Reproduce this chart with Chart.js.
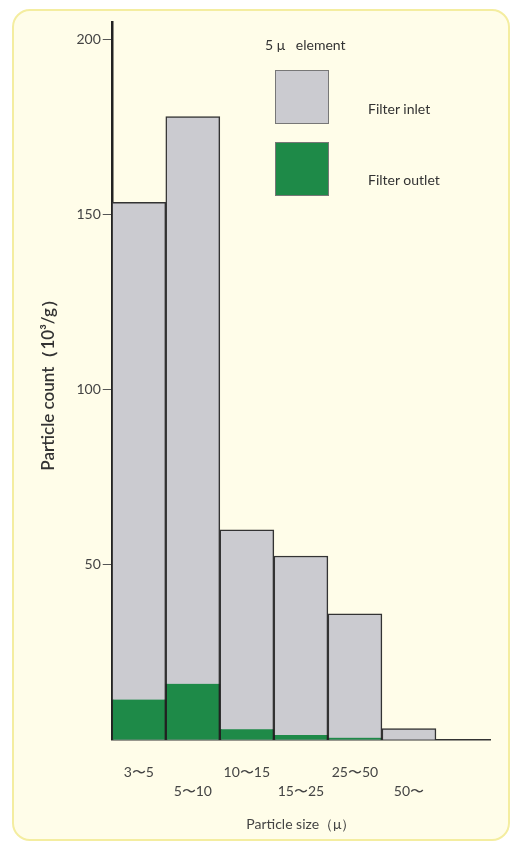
<!DOCTYPE html>
<html>
<head>
<meta charset="utf-8">
<script src="https://cdn.jsdelivr.net/npm/chart.js@4.4.0/dist/chart.umd.min.js"></script>
<style>
  body { margin: 0; background: #fff; font-family: Lato, "Open Sans", sans-serif; }
  .frame { position: absolute; left: 12px; top: 9px; width: 494px; height: 828px;
           background: #fffde9; border: 2px solid #f4eda0; border-radius: 18px; }
  .wrap { position: absolute; left: 0; top: 0; width: 514px; height: 845px; }
  .leg { position: absolute; color: #333; font-size: 14px; }
  .box { position: absolute; width: 52px; height: 52px; border: 1px solid #777; }
</style>
</head>
<body>
<div class="frame"></div>
<div class="wrap"><canvas id="chart"></canvas></div>
<div class="leg" style="left:265px; top:36px;">5 μ&nbsp;&nbsp; element</div>
<div class="box" style="left:275px; top:70px; background:#cbcbd0;"></div>
<div class="leg" style="left:368px; top:100px;">Filter inlet</div>
<div class="box" style="left:275px; top:142px; background:#1e8a48;"></div>
<div class="leg" style="left:368px; top:171px;">Filter outlet</div>
<script>
// Tamaños de partícula (etiquetas escalonadas en dos filas)
const sizes = [['3〜5', ''], ['', '5〜10'], ['10〜15', ''], ['', '15〜25'], ['25〜50', ''], ['', '50〜'], ['', '']];
const inletCounts = [153.5, 178, 60, 52.5, 36, 3.2, null];
const outletCounts = [11.5, 16, 3, 1.4, 0.6, 0, null];
const yTicks = [50, 100, 150, 200];

const ctx = document.getElementById('chart').getContext('2d');
new Chart(ctx, {
    type: 'bar',
    data: {
        labels: sizes,
        datasets: [{
            label: 'Filter outlet',
            data: outletCounts,
            backgroundColor: '#1e8a48',
            borderColor: '#222',
            borderWidth: { left: 1.5, right: 1.5, top: 0, bottom: 0 },
            categoryPercentage: 1,
            barPercentage: 1,
            grouped: false,
            order: 0
        }, {
            label: 'Filter inlet',
            data: inletCounts,
            backgroundColor: '#cbcbd0',
            borderColor: '#333',
            borderWidth: 1.5,
            categoryPercentage: 1,
            barPercentage: 1,
            grouped: false,
            order: 1
        }]
    },
    options: {
        responsive: true,
        maintainAspectRatio: false,
        animation: false,
        layout: { padding: { left: 34, right: 24, top: 22, bottom: 12 } },
        plugins: { legend: { display: false }, tooltip: { enabled: false } },
        scales: {
            x: {
                grid: { display: false },
                border: { color: '#333', width: 1.5 },
                ticks: { color: '#444', font: { size: 14, family: 'Lato', lineHeight: 1.3 }, maxRotation: 0, autoSkip: false, padding: 16 },
                title: { display: true, text: 'Particle size（μ）', color: '#444', font: { size: 14, family: 'Lato' }, padding: { top: 0, bottom: 0 } }
            },
            y: {
                min: 0,
                max: 205,
                afterBuildTicks: (axis) => { axis.ticks = yTicks.map(v => ({ value: v })); },
                grid: { drawOnChartArea: false, color: '#555', tickLength: 9 },
                border: { color: '#222', width: 2.5 },
                ticks: { color: '#444', font: { size: 14, family: 'Lato' }, padding: 2 },
                title: { display: true, text: 'Particle count（10³/g）', color: '#333', font: { size: 17, family: 'Lato', weight: '600' }, padding: { bottom: 16 } }
            }
        }
    }
});
</script>
</body>
</html>
